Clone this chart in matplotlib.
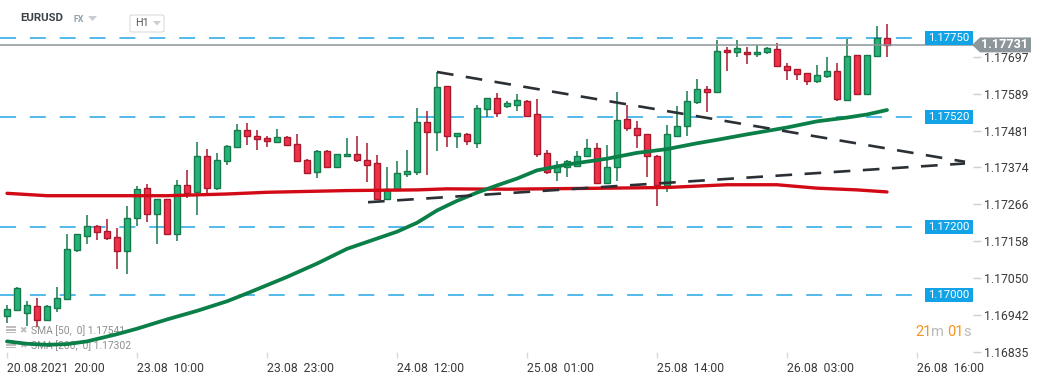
import matplotlib
matplotlib.use("Agg")
import matplotlib.pyplot as plt
from matplotlib.patches import Rectangle, Polygon, FancyBboxPatch
from matplotlib.transforms import blended_transform_factory

plt.rcParams['font.family'] = ['Roboto', 'DejaVu Sans']
plt.rcParams['lines.scale_dashes'] = False

# ---------------- data (EURUSD, H1) ----------------
opens = [1.16941, 1.16957, 1.16950, 1.16970, 1.16929, 1.16964, 1.16990, 1.17133, 1.17173, 1.17202,
         1.17188, 1.17170, 1.17130, 1.17226, 1.17313, 1.17237, 1.17281, 1.17179, 1.17322, 1.17301,
         1.17406, 1.17313, 1.17391, 1.17432, 1.17484, 1.17466, 1.17458, 1.17449, 1.17461, 1.17443,
         1.17394, 1.17359, 1.17420, 1.17376, 1.17408, 1.17414, 1.17394, 1.17385, 1.17281, 1.17307,
         1.17353, 1.17359, 1.17507, 1.17478, 1.17612, 1.17464, 1.17472, 1.17446, 1.17545, 1.17577,
         1.17554, 1.17556, 1.17568, 1.17530, 1.17417, 1.17359, 1.17374, 1.17379, 1.17406, 1.17429,
         1.17327, 1.17376, 1.17516, 1.17490, 1.17472, 1.17408, 1.17321, 1.17466, 1.17493, 1.17565,
         1.17603, 1.17594, 1.17716, 1.17710, 1.17710, 1.17705, 1.17710, 1.17719, 1.17670, 1.17661,
         1.17649, 1.17626, 1.17641, 1.17655, 1.17571, 1.17702, 1.17588, 1.17699, 1.17751]
highs = [1.16971, 1.17026, 1.16983, 1.16993, 1.16972, 1.17026, 1.17180, 1.17180, 1.17235, 1.17206,
         1.17224, 1.17197, 1.17261, 1.17318, 1.17325, 1.17281, 1.17281, 1.17337, 1.17366, 1.17447,
         1.17427, 1.17415, 1.17438, 1.17499, 1.17502, 1.17484, 1.17466, 1.17487, 1.17466, 1.17472,
         1.17397, 1.17423, 1.17423, 1.17414, 1.17458, 1.17466, 1.17446, 1.17411, 1.17374, 1.17391,
         1.17423, 1.17548, 1.17539, 1.17652, 1.17612, 1.17475, 1.17475, 1.17556, 1.17577, 1.17591,
         1.17568, 1.17588, 1.17571, 1.17574, 1.17423, 1.17391, 1.17394, 1.17420, 1.17455, 1.17446,
         1.17440, 1.17594, 1.17556, 1.17510, 1.17472, 1.17411, 1.17496, 1.17554, 1.17597, 1.17632,
         1.17612, 1.17745, 1.17725, 1.17745, 1.17725, 1.17731, 1.17725, 1.17736, 1.17678, 1.17661,
         1.17649, 1.17673, 1.17696, 1.17678, 1.17748, 1.17702, 1.17702, 1.17787, 1.17792]
lows = [1.16919, 1.16954, 1.16910, 1.16907, 1.16925, 1.16951, 1.16986, 1.17127, 1.17149, 1.17161,
        1.17163, 1.17076, 1.17062, 1.17202, 1.17214, 1.17149, 1.17175, 1.17159, 1.17284, 1.17236,
        1.17296, 1.17309, 1.17381, 1.17432, 1.17438, 1.17423, 1.17432, 1.17446, 1.17437, 1.17388,
        1.17356, 1.17342, 1.17376, 1.17374, 1.17408, 1.17388, 1.17330, 1.17281, 1.17278, 1.17307,
        1.17347, 1.17350, 1.17350, 1.17420, 1.17432, 1.17429, 1.17440, 1.17429, 1.17522, 1.17522,
        1.17548, 1.17539, 1.17525, 1.17403, 1.17353, 1.17333, 1.17347, 1.17379, 1.17406, 1.17324,
        1.17324, 1.17333, 1.17481, 1.17429, 1.17347, 1.17260, 1.17301, 1.17461, 1.17464, 1.17559,
        1.17536, 1.17594, 1.17654, 1.17696, 1.17675, 1.17696, 1.17705, 1.17667, 1.17629, 1.17629,
        1.17615, 1.17620, 1.17635, 1.17568, 1.17568, 1.17585, 1.17588, 1.17699, 1.17696]
closes = [1.16961, 1.17022, 1.16973, 1.16929, 1.16970, 1.16993, 1.17136, 1.17179, 1.17202, 1.17185,
          1.17167, 1.17130, 1.17226, 1.17310, 1.17237, 1.17281, 1.17179, 1.17322, 1.17298, 1.17406,
          1.17313, 1.17396, 1.17435, 1.17484, 1.17464, 1.17455, 1.17452, 1.17461, 1.17440, 1.17391,
          1.17356, 1.17420, 1.17376, 1.17414, 1.17414, 1.17394, 1.17382, 1.17281, 1.17310, 1.17356,
          1.17362, 1.17507, 1.17478, 1.17609, 1.17464, 1.17475, 1.17452, 1.17548, 1.17577, 1.17533,
          1.17562, 1.17571, 1.17525, 1.17414, 1.17359, 1.17382, 1.17391, 1.17408, 1.17429, 1.17327,
          1.17376, 1.17513, 1.17490, 1.17469, 1.17406, 1.17321, 1.17472, 1.17493, 1.17568, 1.17603,
          1.17594, 1.17713, 1.17710, 1.17722, 1.17705, 1.17710, 1.17722, 1.17670, 1.17658, 1.17646,
          1.17626, 1.17644, 1.17655, 1.17574, 1.17699, 1.17588, 1.17702, 1.17751, 1.17731]

# SMA curves (bar index, value)
sma50_idx = [0, 2, 4, 6, 8, 11, 13, 16, 19, 22, 24, 26, 28, 31, 34, 37, 39, 41, 43, 45,
             47, 49, 51, 53, 56, 60, 63, 66, 69, 71, 74, 78, 81, 84, 86, 88]
sma50_val = [1.16866, 1.16859, 1.16856, 1.16858, 1.16866, 1.16887, 1.16903, 1.16930, 1.16955, 1.16983,
             1.17006, 1.17030, 1.17054, 1.17093, 1.17136, 1.17166, 1.17186, 1.17212, 1.17248, 1.17276,
             1.17300, 1.17321, 1.17341, 1.17365, 1.17382, 1.17399, 1.17416, 1.17427, 1.17444, 1.17454,
             1.17470, 1.17490, 1.17508, 1.17519, 1.17528, 1.17541]
sma200_idx = [0, 4, 13, 16, 22, 26, 34, 41, 44, 50, 60, 66, 72, 77, 81, 85, 88]
sma200_val = [1.17298, 1.17291, 1.17291, 1.17291, 1.17296, 1.17301, 1.17306, 1.17308, 1.17311, 1.17310,
              1.17313, 1.17315, 1.17323, 1.17323, 1.17313, 1.17308, 1.17302]

# trend lines (bar index, price)
trend_down_idx = [43, 95.8]
trend_down_val = [1.17652, 1.17390]
trend_up_idx = [36.1, 95.8]
trend_up_val = [1.17272, 1.17385]

levels = [1.17750, 1.17520, 1.17200, 1.17000]
current_price = 1.17731
ytick_vals = [1.16835, 1.16942, 1.17050, 1.17158, 1.17266, 1.17374, 1.17481, 1.17589, 1.17697]
xtick_idx = [0, 13, 26, 39, 52, 65, 78, 91]
xtick_labels = ["20.08.2021  20:00", "23.08  10:00", "23.08  23:00", "24.08  12:00",
                "25.08  01:00", "25.08  14:00", "26.08  03:00", "26.08  16:00"]
sma50_label = "SMA [50,  0] 1.17541"
sma200_label = "SMA [200,  0] 1.17302"

# ---------------- figure ----------------
W, H = 1041, 379
fig = plt.figure(figsize=(W / 100, H / 100), dpi=100)
fig.patch.set_facecolor("white")
AX_R, AX_B = 973, 352
ax = fig.add_axes([0, 1 - AX_B / H, AX_R / W, AX_B / H])
ax.set_xlim(-0.7, (AX_R - 7) / 10)
ax.set_ylim(1.16840, 1.17862)
for s in ax.spines.values():
    s.set_visible(False)

def P(x, y):
    return (x / W, 1 - y / H)

# horizontal blue levels
blue = "#35aee8"
for lv in levels:
    ax.plot([-0.7, 91.2], [lv, lv], color=blue, lw=1.2, dashes=(11.5, 10), zorder=1)

# candles
up_body, up_edge = "#27b277", "#177a4c"
dn_body, dn_edge = "#f0314a", "#a8192d"
idx = list(range(len(opens)))
for i in idx:
    o, h, l, c = opens[i], highs[i], lows[i], closes[i]
    up = c >= o
    edge = up_edge if up else dn_edge
    body = up_body if up else dn_body
    ax.vlines(i, l, h, color=edge, lw=1.1, zorder=2)
    ax.bar(i, max(abs(c - o), 0.00002), bottom=min(o, c), width=0.68,
           color=body, edgecolor=edge, linewidth=1.0, zorder=3)

# current price line
ax.axhline(current_price, color="#8c969b", lw=1.1, zorder=4)

# SMA lines
ax.plot(sma200_idx, sma200_val, color="#d20a16", lw=2.4, solid_capstyle="round",
        solid_joinstyle="round", zorder=5)
ax.plot(sma50_idx, sma50_val, color="#0b7f48", lw=2.7, solid_capstyle="round",
        solid_joinstyle="round", zorder=5)

# trend lines
ax.plot(trend_down_idx, trend_down_val, color="#2a3035", lw=1.9, dashes=(12, 9), zorder=6)
ax.plot(trend_up_idx, trend_up_val, color="#2a3035", lw=1.9, dashes=(12, 9), zorder=6)

# y axis on the right
ax.yaxis.tick_right()
ax.set_yticks(ytick_vals)
ax.set_yticklabels([f"{v:.5f}" for v in ytick_vals])
ax.tick_params(axis="y", length=6, width=1, color="#d0d0d0", pad=2,
               labelsize=8.8, labelcolor="#3a3a3a")

# x axis
ax.set_xticks(xtick_idx)
ax.set_xticklabels(xtick_labels)
ax.tick_params(axis="x", length=4, width=1, color="#d8d8d8", pad=3,
               labelsize=8.8, labelcolor="#3a3a3a")
for t in ax.get_xticklabels():
    t.set_horizontalalignment("left")

# blue level boxes
bt = blended_transform_factory(ax.transAxes, ax.transData)
px_price = (1.17862 - 1.16840) / AX_B
for lv in levels:
    ax.add_patch(Rectangle((925 / AX_R, lv - 7 * px_price), 48 / AX_R, 14 * px_price,
                           transform=bt, facecolor="#12a3e6", edgecolor="none",
                           zorder=7, clip_on=False))
    ax.text(949 / AX_R, lv, f"{lv:.5f}", transform=bt, color="white", fontsize=8.2,
            ha="center", va="center", zorder=8, clip_on=False)

# grey current-price tag
cy = current_price
tag = Polygon([(972 / AX_R, cy), (980 / AX_R, cy + 7.5 * px_price),
               (1031 / AX_R, cy + 7.5 * px_price), (1031 / AX_R, cy - 7.5 * px_price),
               (980 / AX_R, cy - 7.5 * px_price)], closed=True, transform=bt,
              facecolor="#8c969b", edgecolor="none", zorder=9, clip_on=False)
ax.add_patch(tag)
ax.text(1005 / AX_R, cy, f"{current_price:.5f}", transform=bt, color="white",
        fontsize=9.2, fontweight="bold", ha="center", va="center", zorder=10, clip_on=False)

# header
fig.text(*P(20, 18), "EURUSD", fontsize=8.2, fontweight="bold", color="#3b4248",
         ha="left", va="center")
fig.text(*P(73, 19), "FX", fontsize=6.4, fontweight="bold", color="#8fa1ad",
         ha="left", va="center")
fig.add_artist(Polygon([P(88, 16), P(97, 16), P(92.5, 21)], closed=True,
                       facecolor="#c9cdd0", edgecolor="none", transform=fig.transFigure))
fig.add_artist(FancyBboxPatch(P(130, 32), 34 / W, 17 / H,
                              boxstyle="round,pad=0,rounding_size=0.003",
                              facecolor="white", edgecolor="#dcdcdc", lw=0.8,
                              transform=fig.transFigure))
fig.text(*P(135, 23), "H1", fontsize=7.8, color="#555b60", ha="left", va="center")
fig.add_artist(Polygon([P(153, 21), P(161, 21), P(157, 25.5)], closed=True,
                       facecolor="#c9cdd0", edgecolor="none", transform=fig.transFigure))

# indicator legend (drawn beneath lines)
for yy, lab in [(331, sma50_label), (346, sma200_label)]:
    for k in range(3):
        fig.add_artist(Rectangle(P(6, yy - 3 + k * 2.7), 10 / W, 1.6 / H,
                                 facecolor="#bdbdbd", edgecolor="none",
                                 transform=fig.transFigure, zorder=0))
    fig.text(*P(19, yy), "\u2716", fontsize=6.5, color="#bdbdbd", ha="left", va="center",
             family=["DejaVu Sans"], zorder=0)
    fig.text(*P(31, yy), lab, fontsize=7.4, color="#8e8e8e", ha="left", va="center", zorder=0)
ax.set_zorder(1)
ax.patch.set_alpha(0)

# countdown
orange, grey = "#f7931e", "#b9b9b9"
fig.text(*P(915, 332), "21", fontsize=10.5, color=orange, ha="left", va="center")
fig.text(*P(931, 332), "m", fontsize=10.5, color=grey, ha="left", va="center")
fig.text(*P(947, 332), "01", fontsize=10.5, color=orange, ha="left", va="center")
fig.text(*P(963, 332), "s", fontsize=10.5, color=grey, ha="left", va="center")

fig.savefig("out.png", dpi=100)
